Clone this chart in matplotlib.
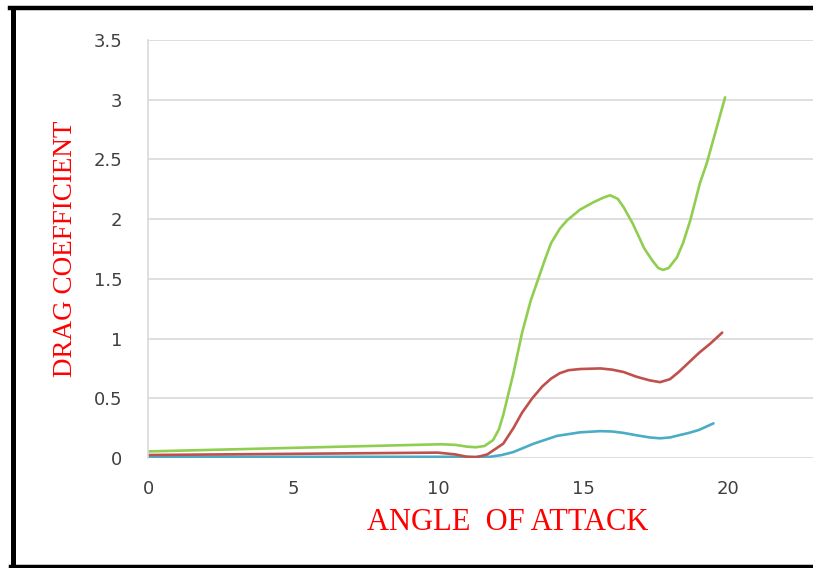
import numpy as np
import matplotlib.pyplot as plt
from matplotlib.lines import Line2D

# values
green_x = [0, 5, 10.1, 10.6, 11.0, 11.3, 11.6, 11.9, 12.1, 12.25, 12.6, 12.9, 13.2, 13.5, 13.7, 13.9, 14.2,
           14.45, 14.9, 15.35, 15.7, 15.93, 16.2, 16.4, 16.7, 16.97, 17.1, 17.4, 17.6, 17.76, 17.95,
           18.24, 18.45, 18.7, 19.03, 19.27, 19.9]
green_y = [0.055, 0.085, 0.115, 0.11, 0.095, 0.09, 0.10, 0.15, 0.24, 0.36, 0.71, 1.05, 1.32, 1.53, 1.67, 1.80, 1.92,
           1.99, 2.08, 2.14, 2.18, 2.20, 2.17, 2.10, 1.97, 1.83, 1.76, 1.65, 1.59, 1.575, 1.59,
           1.68, 1.80, 1.99, 2.30, 2.47, 3.02]

red_x = [0, 5, 10, 10.6, 11.0, 11.3, 11.7, 12.25, 12.6, 12.9, 13.25, 13.6, 13.9, 14.2, 14.5, 14.9, 15.6, 16.0,
         16.4, 16.85, 17.3, 17.66, 18.0, 18.3, 18.65, 19.0, 19.4, 19.8]
red_y = [0.025, 0.035, 0.045, 0.03, 0.01, 0.005, 0.03, 0.12, 0.25, 0.38, 0.50, 0.60, 0.665, 0.71, 0.735, 0.745, 0.75, 0.74,
         0.72, 0.68, 0.65, 0.635, 0.66, 0.72, 0.80, 0.88, 0.96, 1.05]

blue_x = [0, 5, 10, 11.8, 12.2, 12.6, 13.3, 14.1, 14.9, 15.6, 16.0, 16.4, 16.85, 17.3, 17.66,
          18.0, 18.3, 18.65, 19.0, 19.5]
blue_y = [0.01, 0.01, 0.01, 0.01, 0.025, 0.05, 0.12, 0.185, 0.215, 0.225, 0.222, 0.21, 0.19, 0.172, 0.165,
          0.172, 0.19, 0.21, 0.235, 0.29]

x_ticks = [0, 5, 10, 15, 20]
y_ticks = [0, 0.5, 1, 1.5, 2, 2.5, 3, 3.5]
y_labels = ['0', '0.5', '1', '1.5', '2', '2.5', '3', '3.5']

fig = plt.figure(figsize=(8.13, 5.68), dpi=100)
ax = fig.add_axes([148/813, 110/568, 665/813, 418/568])

ax.plot(blue_x, blue_y, color='#4bacc6', linewidth=1.9, solid_capstyle='round')
ax.plot(red_x, red_y, color='#c0504d', linewidth=1.9, solid_capstyle='round')
ax.plot(green_x, green_y, color='#8fce4f', linewidth=1.9, solid_capstyle='round')

ax.set_xlim(0, 665/29.0)
ax.set_ylim(0, 3.5)
ax.set_xticks(x_ticks)
ax.set_yticks(y_ticks)
ax.set_yticklabels(y_labels)
ax.grid(axis='y', color='#d9d9d9', linewidth=1.2)
ax.set_axisbelow(True)
for s in ['top', 'right', 'bottom']:
    ax.spines[s].set_visible(False)
ax.spines['left'].set_color('#d9d9d9')
ax.spines['left'].set_linewidth(1.2)
ax.tick_params(length=0, labelsize=13, labelcolor='#404040')
ax.tick_params(axis='y', pad=18.5)
ax.tick_params(axis='x', pad=16)

fig.text(508/813, 1 - 523/568, 'ANGLE  OF ATTACK', color='red', fontsize=22,
         family='Liberation Serif', ha='center', va='center')
fig.text(65/813, 1 - 249/568, 'DRAG COEFFICIENT', color='red', fontsize=19.5,
         family='Liberation Serif', ha='center', va='center', rotation=90)

# black frame around the picture
fig.add_artist(Line2D([12.5/813, 12.5/813], [3/568, 1 - 8/568], color='black', linewidth=3.6,
                      transform=fig.transFigure))
fig.add_artist(Line2D([10/813, 1], [1 - 8/568, 1 - 8/568], color='black', linewidth=3.2,
                      transform=fig.transFigure))
fig.add_artist(Line2D([10/813, 1], [2.5/568, 2.5/568], color='black', linewidth=2.5,
                      transform=fig.transFigure))

fig.savefig('out.png', dpi=100)
